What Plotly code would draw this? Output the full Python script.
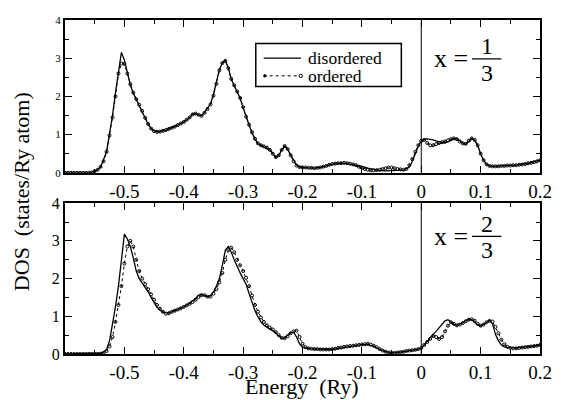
import plotly.graph_objects as go

# ---------------- data ----------------
# x = 1/3, disordered
e_dis_1 = [-0.60, -0.58, -0.56, -0.55, -0.54, -0.53, -0.525, -0.52, -0.515, -0.51,
           -0.505, -0.50, -0.495, -0.49, -0.485, -0.48, -0.475, -0.47, -0.465, -0.46,
           -0.455, -0.45, -0.445, -0.44, -0.43, -0.42, -0.41, -0.40, -0.39, -0.385,
           -0.38, -0.375, -0.37, -0.365, -0.36, -0.355, -0.35, -0.345, -0.34, -0.335,
           -0.33, -0.325, -0.32, -0.315, -0.31, -0.305, -0.30, -0.295, -0.29, -0.285,
           -0.28, -0.275, -0.27, -0.26, -0.255, -0.25, -0.245, -0.24, -0.235, -0.23,
           -0.225, -0.22, -0.215, -0.21, -0.205, -0.20, -0.19, -0.18, -0.17, -0.16,
           -0.15, -0.14, -0.13, -0.12, -0.11, -0.10, -0.09, -0.08, -0.07, -0.06,
           -0.05, -0.04, -0.03, -0.02, -0.015, -0.01, -0.005, 0.0, 0.005, 0.01,
           0.02, 0.03, 0.04, 0.05, 0.055, 0.06, 0.07, 0.075, 0.08, 0.085,
           0.09, 0.095, 0.10, 0.105, 0.11, 0.115, 0.12, 0.14, 0.16, 0.18, 0.20]
dos_dis_1 = [0, 0, 0, 0.03, 0.15, 0.55, 1.0, 1.5, 2.1, 2.7,
             3.15, 2.95, 2.6, 2.3, 2.08, 1.92, 1.78, 1.6, 1.42, 1.27,
             1.16, 1.1, 1.08, 1.08, 1.12, 1.18, 1.25, 1.33, 1.45, 1.54,
             1.55, 1.51, 1.50, 1.58, 1.68, 1.8, 2.05, 2.35, 2.7, 2.88,
             2.95, 2.75, 2.45, 2.28, 2.12, 1.95, 1.7, 1.45, 1.25, 1.05,
             0.88, 0.76, 0.72, 0.66, 0.6, 0.5, 0.4, 0.45, 0.6, 0.7,
             0.62, 0.47, 0.32, 0.2, 0.15, 0.14, 0.13, 0.12, 0.14, 0.18,
             0.23, 0.25, 0.25, 0.23, 0.2, 0.17, 0.12, 0.08, 0.06, 0.05,
             0.06, 0.07, 0.07, 0.15, 0.3, 0.5, 0.7, 0.82, 0.88, 0.89,
             0.86, 0.81, 0.78, 0.85, 0.9, 0.89, 0.78, 0.75, 0.83, 0.9,
             0.85, 0.72, 0.5, 0.33, 0.22, 0.18, 0.17, 0.18, 0.2, 0.25, 0.33]

# ordered series sampled every 0.005 Ry from -0.600 to 0.200
e_ord = [round(-0.6 + 0.005 * i, 3) for i in range(161)]
dos_ord_1 = [0, 0, 0, 0, 0, 0, 0, 0, 0, 0.01,
             0.04, 0.08, 0.16, 0.3, 0.55, 0.98, 1.45, 2.0, 2.6, 2.86,
             2.85, 2.6, 2.32, 2.1, 1.93, 1.78, 1.62, 1.44, 1.28, 1.16,
             1.09, 1.07, 1.08, 1.1, 1.12, 1.15, 1.18, 1.21, 1.25, 1.29,
             1.33, 1.39, 1.45, 1.53, 1.55, 1.52, 1.49, 1.57, 1.67, 1.79,
             2.02, 2.33, 2.68, 2.87, 2.93, 2.74, 2.46, 2.29, 2.13, 1.96,
             1.72, 1.47, 1.26, 1.06, 0.89, 0.77, 0.72, 0.69, 0.66, 0.6,
             0.5, 0.41, 0.46, 0.6, 0.7, 0.62, 0.46, 0.3, 0.19, 0.15,
             0.14, 0.14, 0.13, 0.13, 0.12, 0.13, 0.14, 0.16, 0.18, 0.21,
             0.23, 0.24, 0.25, 0.25, 0.26, 0.25, 0.24, 0.22, 0.2, 0.16,
             0.13, 0.1, 0.08, 0.06, 0.06, 0.07, 0.08, 0.1, 0.12, 0.14,
             0.14, 0.12, 0.1, 0.09, 0.08, 0.1, 0.2, 0.36, 0.55, 0.72,
             0.84, 0.86, 0.78, 0.72, 0.72, 0.75, 0.78, 0.8, 0.82, 0.85,
             0.88, 0.9, 0.88, 0.82, 0.77, 0.76, 0.84, 0.9, 0.86, 0.72,
             0.5, 0.33, 0.22, 0.18, 0.17, 0.17, 0.17, 0.18, 0.18, 0.19,
             0.19, 0.2, 0.2, 0.21, 0.22, 0.23, 0.25, 0.26, 0.28, 0.3,
             0.33]

# x = 2/3, disordered
e_dis_2 = [-0.60, -0.56, -0.545, -0.54, -0.535, -0.53, -0.525, -0.52, -0.515, -0.51,
           -0.505, -0.50, -0.495, -0.49, -0.485, -0.48, -0.475, -0.47, -0.465, -0.46,
           -0.455, -0.45, -0.445, -0.44, -0.435, -0.43, -0.42, -0.41, -0.40, -0.39,
           -0.38, -0.375, -0.37, -0.365, -0.36, -0.355, -0.35, -0.345, -0.34, -0.335,
           -0.33, -0.325, -0.32, -0.315, -0.31, -0.305, -0.30, -0.295, -0.29, -0.285,
           -0.28, -0.275, -0.27, -0.265, -0.26, -0.255, -0.25, -0.245, -0.24, -0.235,
           -0.23, -0.225, -0.22, -0.215, -0.21, -0.205, -0.20, -0.19, -0.18, -0.17,
           -0.16, -0.15, -0.14, -0.13, -0.12, -0.11, -0.10, -0.09, -0.08, -0.07,
           -0.06, -0.05, -0.04, -0.03, -0.02, -0.01, 0.0, 0.005, 0.01, 0.015,
           0.02, 0.025, 0.03, 0.035, 0.04, 0.045, 0.05, 0.055, 0.06, 0.065,
           0.07, 0.075, 0.08, 0.085, 0.09, 0.095, 0.10, 0.105, 0.11, 0.115,
           0.12, 0.125, 0.13, 0.135, 0.14, 0.15, 0.16, 0.17, 0.18, 0.19, 0.20]
dos_dis_2 = [0, 0, 0, 0.02, 0.05, 0.12, 0.35, 0.75, 1.25, 1.8,
             2.45, 3.18, 3.05, 2.85, 2.55, 2.2, 2.0, 1.88, 1.78, 1.65,
             1.5, 1.36, 1.24, 1.16, 1.11, 1.09, 1.12, 1.18, 1.25, 1.35,
             1.47, 1.56, 1.58, 1.55, 1.52, 1.55, 1.65, 1.8, 2.0, 2.35,
             2.75, 2.85, 2.7, 2.5, 2.3, 2.15, 2.0, 1.85, 1.6, 1.35,
             1.15, 0.98, 0.85, 0.76, 0.7, 0.66, 0.62, 0.55, 0.47, 0.41,
             0.43, 0.5, 0.57, 0.58, 0.45, 0.27, 0.18, 0.14, 0.13, 0.12,
             0.11, 0.12, 0.15, 0.18, 0.21, 0.23, 0.25, 0.25, 0.2, 0.12,
             0.06, 0.03, 0.04, 0.06, 0.09, 0.11, 0.15, 0.25, 0.35, 0.45,
             0.52, 0.6, 0.7, 0.8, 0.88, 0.91, 0.85, 0.78, 0.76, 0.79,
             0.83, 0.88, 0.92, 0.91, 0.85, 0.77, 0.74, 0.79, 0.86, 0.89,
             0.8, 0.52, 0.35, 0.24, 0.19, 0.16, 0.16, 0.17, 0.19, 0.21, 0.24]

dos_ord_2 = [0, 0, 0, 0, 0, 0, 0, 0, 0, 0,
             0, 0, 0.01, 0.03, 0.08, 0.2, 0.45, 0.85, 1.3, 1.8,
             2.4, 2.85, 3.0, 2.85, 2.5, 2.2, 2.0, 1.85, 1.72, 1.58,
             1.44, 1.3, 1.2, 1.12, 1.07, 1.08, 1.12, 1.15, 1.18, 1.21,
             1.25, 1.29, 1.33, 1.38, 1.44, 1.51, 1.56, 1.56, 1.52, 1.52,
             1.6, 1.72, 1.9, 2.15, 2.5, 2.75, 2.82, 2.7, 2.5, 2.35,
             2.2, 2.02, 1.8, 1.55, 1.3, 1.12, 0.97, 0.85, 0.76, 0.7,
             0.65, 0.58, 0.5, 0.43, 0.42, 0.47, 0.55, 0.6, 0.62, 0.45,
             0.27, 0.18, 0.15, 0.14, 0.13, 0.13, 0.12, 0.12, 0.12, 0.12,
             0.13, 0.14, 0.16, 0.17, 0.19, 0.2, 0.21, 0.22, 0.23, 0.24,
             0.25, 0.26, 0.27, 0.25, 0.22, 0.18, 0.13, 0.09, 0.06, 0.04,
             0.03, 0.03, 0.04, 0.05, 0.06, 0.08, 0.09, 0.1, 0.11, 0.13,
             0.16, 0.24, 0.32, 0.4, 0.48, 0.45, 0.4, 0.45, 0.6, 0.75,
             0.84, 0.8, 0.76, 0.78, 0.82, 0.87, 0.91, 0.92, 0.88, 0.8,
             0.75, 0.78, 0.84, 0.88, 0.86, 0.72, 0.55, 0.38, 0.26, 0.19,
             0.16, 0.15, 0.15, 0.16, 0.17, 0.18, 0.19, 0.2, 0.21, 0.22,
             0.24]

x_tickvals = [-0.5, -0.4, -0.3, -0.2, -0.1, 0.0, 0.1, 0.2]
x_ticktext = ["-0.5", "-0.4", "-0.3", "-0.2", "-0.1", "0", "0.1", "0.2"]
y_tickvals = [0, 1, 2, 3, 4]
y_ticktext = ["0", "1", "2", "3", "4"]
series_names = ["disordered", "ordered"]

assert len(e_dis_1) == len(dos_dis_1)
assert len(e_dis_2) == len(dos_dis_2)
assert len(dos_ord_1) == 161 and len(dos_ord_2) == 161

FONT = "Liberation Serif, Times New Roman, Times, DejaVu Serif, serif"

DIS_LINE = dict(color="black", width=1.3)
ORD_LINE = dict(color="black", width=1, dash="dot")
ORD_MARK = dict(symbol="circle-open", size=3, color="black", line=dict(width=1, color="black"))

fig = go.Figure()

def add_panel(e_d, d_d, d_o, xa, ya):
    fig.add_trace(go.Scatter(x=e_d, y=d_d, mode="lines", name=series_names[0],
                             line=DIS_LINE, xaxis=xa, yaxis=ya, showlegend=False))
    fig.add_trace(go.Scatter(x=e_ord, y=d_o, mode="lines+markers", name=series_names[1],
                             line=ORD_LINE, marker=ORD_MARK,
                             xaxis=xa, yaxis=ya, showlegend=False))

add_panel(e_dis_1, dos_dis_1, dos_ord_1, "x", "y")
add_panel(e_dis_2, dos_dis_2, dos_ord_2, "x2", "y2")

axis_common = dict(showline=True, linecolor="black", linewidth=2, mirror="allticks",
                   ticks="inside", tickcolor="black", tickwidth=1, showgrid=False,
                   zeroline=False)

xcommon = dict(axis_common, range=[-0.6, 0.2], tickvals=x_tickvals, ticktext=x_ticktext,
               ticklen=7, tickfont=dict(family=FONT, size=19, color="black"),
               minor=dict(tickvals=[-0.55, -0.45, -0.35, -0.25, -0.15, -0.05, 0.05, 0.15],
                          ticks="inside", ticklen=4, tickcolor="black", tickwidth=1))
ycommon = dict(axis_common, range=[0, 4], tickvals=y_tickvals, ticktext=y_ticktext,
               ticklen=7,
               minor=dict(tickvals=[0.5, 1.5, 2.5, 3.5], ticks="inside", ticklen=4,
                          tickcolor="black", tickwidth=1))

fig.update_layout(
    width=564, height=400,
    margin=dict(l=65, r=16, t=13, b=46),
    paper_bgcolor="white", plot_bgcolor="white",
    font=dict(family=FONT, color="black"),
    xaxis=dict(xcommon, anchor="y", domain=[0, 1]),
    yaxis=dict(ycommon, anchor="x", domain=[0.5425, 1],
               tickfont=dict(family=FONT, size=11, color="black")),
    xaxis2=dict(xcommon, anchor="y2", domain=[0, 1]),
    yaxis2=dict(ycommon, anchor="x2", domain=[0, 0.4516],
                tickfont=dict(family=FONT, size=16, color="black")),
    showlegend=False,
)

# vertical Fermi-level lines
for xr, yr in [("x", "y domain"), ("x2", "y2 domain")]:
    fig.add_shape(type="line", x0=0, x1=0, y0=0, y1=1, xref=xr, yref=yr,
                  line=dict(color="black", width=1))

# ---- legend box drawn in paper coordinates (top panel) ----
PW, PH, PL, PB = 483.0, 341.0, 65.0, 354.0
def px(xp):
    return (xp - PL) / PW
def py(yp):
    return (PB - yp) / PH

fig.add_shape(type="rect", x0=px(259), x1=px(407), y0=py(81), y1=py(37),
              xref="paper", yref="paper", line=dict(color="black", width=1.5),
              fillcolor="white", layer="above")
fig.add_shape(type="line", x0=px(267), x1=px(305), y0=py(52), y1=py(52),
              xref="paper", yref="paper", line=DIS_LINE)
fig.add_shape(type="line", x0=px(267), x1=px(303), y0=py(70), y1=py(70),
              xref="paper", yref="paper", line=ORD_LINE)
fig.add_shape(type="circle", x0=px(303), x1=px(306.5), y0=py(71.7), y1=py(68.3),
              xref="paper", yref="paper", line=dict(color="black", width=1))
fig.add_shape(type="circle", x0=px(267), x1=px(269.5), y0=py(71.2), y1=py(68.8),
              xref="paper", yref="paper", line=dict(color="black", width=1),
              fillcolor="black")
for name, yy in zip(series_names, [51.5, 70.5]):
    fig.add_annotation(text=name, x=px(311), y=py(yy), xref="paper", yref="paper",
                       showarrow=False, xanchor="left", yanchor="middle", borderpad=0,
                       font=dict(family=FONT, size=17.5, color="black"))

# x = 1/3 and x = 2/3 labels
def frac_label(num, xr, yr, y_mid):
    fig.add_annotation(text="x =", x=0.018, y=y_mid, xref=xr, yref=yr, showarrow=False,
                       xanchor="left", yanchor="middle",
                       font=dict(family=FONT, size=26, color="black"))
    fig.add_annotation(text=num, x=0.110, y=y_mid + 0.33, xref=xr, yref=yr, showarrow=False,
                       xanchor="center", yanchor="middle",
                       font=dict(family=FONT, size=24, color="black"))
    fig.add_annotation(text="3", x=0.110, y=y_mid - 0.36, xref=xr, yref=yr, showarrow=False,
                       xanchor="center", yanchor="middle",
                       font=dict(family=FONT, size=24, color="black"))
    fig.add_shape(type="line", x0=0.0855, x1=0.135, y0=y_mid, y1=y_mid, xref=xr, yref=yr,
                  line=dict(color="black", width=1.2))

frac_label("1", "x", "y", 2.98)
frac_label("2", "x2", "y2", 3.12)

# axis titles
fig.add_annotation(text="DOS  (states/Ry atom)", x=-0.09, y=py(188.5), xref="paper",
                   yref="paper", textangle=-90, showarrow=False, xanchor="center",
                   yanchor="middle", font=dict(family=FONT, size=22, color="black"))
fig.add_annotation(text="Energy  (Ry)", x=px(305.5), y=py(387.5), xref="paper", yref="paper",
                   showarrow=False, xanchor="center", yanchor="middle", borderpad=0,
                   font=dict(family=FONT, size=22, color="black"))

fig.write_html("out.html")
